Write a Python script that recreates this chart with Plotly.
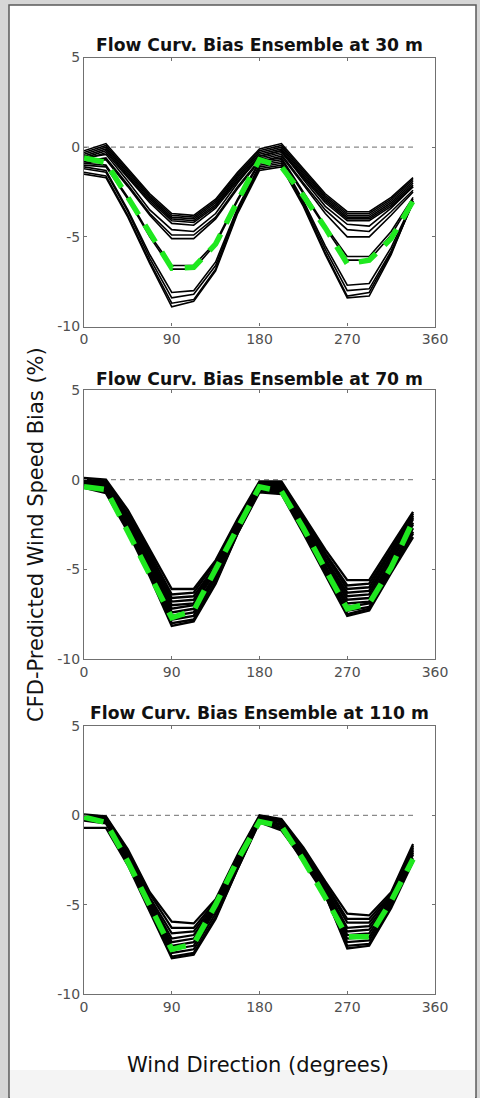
import plotly.graph_objects as go

W, H = 480, 1098

# ---------------- data ----------------
DIRS = [0, 22.5, 45, 67.5, 90, 112.5, 135, 157.5, 180, 202.5, 225, 247.5, 270, 292.5, 315, 337.5]
X_TICKS = [0, 90, 180, 270, 360]
X_TICKTEXT = ["0", "90", "180", "270", "360"]
Y_TICKS = [5, 0, -5, -10]
Y_TICKTEXT = ["5", "0", "-5", "-10"]
TITLES = ["Flow Curv. Bias Ensemble at 30 m",
          "Flow Curv. Bias Ensemble at 70 m",
          "Flow Curv. Bias Ensemble at 110 m"]

# 30 m ensemble members
E30_A1 = [-0.2, 0.2, -1.2, -2.6, -3.7, -3.8, -2.9, -1.4, -0.1, 0.2, -1.2, -2.6, -3.6, -3.6, -2.8, -1.7]
E30_A2 = [-0.3, 0.1, -1.3, -2.7, -3.8, -3.9, -3.0, -1.5, -0.2, 0.1, -1.3, -2.7, -3.7, -3.7, -2.9, -1.8]
E30_A3 = [-0.4, 0.0, -1.4, -2.8, -3.9, -4.0, -3.1, -1.6, -0.3, 0.0, -1.4, -2.8, -3.8, -3.8, -3.0, -1.9]
E30_A4 = [-0.5, -0.1, -1.5, -2.9, -4.0, -4.1, -3.2, -1.7, -0.4, -0.1, -1.5, -2.9, -3.9, -3.9, -3.1, -2.0]
E30_A5 = [-0.6, -0.2, -1.6, -3.0, -4.1, -4.2, -3.3, -1.8, -0.5, -0.2, -1.6, -3.0, -4.0, -4.0, -3.2, -2.1]
E30_A6 = [-0.7, -0.3, -1.7, -3.1, -4.25, -4.35, -3.4, -1.9, -0.6, -0.3, -1.7, -3.1, -4.1, -4.1, -3.3, -2.2]
E30_B1 = [-0.6, -0.4, -1.9, -3.5, -4.6, -4.7, -3.7, -2.0, -0.5, -0.2, -1.8, -3.3, -4.3, -4.4, -3.4, -2.2]
E30_B2 = [-0.8, -0.6, -2.1, -3.7, -4.9, -4.9, -3.9, -2.2, -0.7, -0.4, -2.0, -3.5, -4.6, -4.7, -3.6, -2.4]
E30_B3 = [-0.9, -0.7, -2.2, -3.8, -5.1, -5.1, -4.0, -2.3, -0.8, -0.5, -2.1, -3.7, -5.0, -5.0, -3.8, -2.5]
E30_C1 = [-0.9, -1.0, -2.8, -4.9, -6.6, -6.6, -5.3, -2.9, -0.8, -0.6, -2.5, -4.4, -6.1, -6.1, -4.7, -2.8]
E30_C2 = [-1.0, -1.1, -2.9, -5.0, -6.8, -6.8, -5.4, -3.0, -0.9, -0.7, -2.6, -4.5, -6.3, -6.3, -4.9, -2.9]
E30_D1 = [-1.1, -1.3, -3.5, -6.0, -8.1, -8.0, -6.4, -3.4, -1.0, -0.8, -3.0, -5.5, -7.7, -7.6, -5.6, -3.0]
E30_D2 = [-1.2, -1.4, -3.6, -6.2, -8.4, -8.2, -6.6, -3.5, -1.1, -0.9, -3.1, -5.7, -8.0, -7.9, -5.8, -3.1]
E30_D3 = [-1.4, -1.6, -3.8, -6.4, -8.7, -8.5, -6.8, -3.6, -1.2, -1.0, -3.2, -5.9, -8.3, -8.1, -5.9, -3.1]
E30_D4 = [-1.5, -1.7, -3.9, -6.5, -8.9, -8.6, -6.9, -3.7, -1.3, -1.1, -3.3, -6.0, -8.4, -8.3, -6.0, -3.0]
MEAN30 = [-0.6, -0.85, -2.8, -4.8, -6.75, -6.7, -5.4, -3.0, -0.7, -1.1, -2.7, -4.5, -6.5, -6.3, -5.1, -3.0]

# 70 m ensemble members
E70_1 = [0.1, 0.0, -1.7, -3.9, -6.1, -6.1, -4.5, -2.2, -0.1, -0.1, -2.0, -3.9, -5.6, -5.6, -3.7, -1.8]
E70_2 = [0.0, -0.1, -1.9, -4.1, -6.4, -6.3, -4.6, -2.3, -0.2, -0.2, -2.1, -4.1, -5.9, -5.8, -3.9, -1.9]
E70_3 = [0.0, -0.2, -2.0, -4.3, -6.6, -6.5, -4.8, -2.4, -0.2, -0.3, -2.2, -4.2, -6.1, -6.0, -4.0, -2.0]
E70_4 = [-0.1, -0.2, -2.1, -4.4, -6.8, -6.7, -4.9, -2.5, -0.3, -0.3, -2.3, -4.4, -6.3, -6.2, -4.2, -2.1]
E70_5 = [-0.1, -0.3, -2.2, -4.5, -7.0, -6.9, -5.0, -2.6, -0.3, -0.4, -2.4, -4.5, -6.5, -6.4, -4.3, -2.2]
E70_6 = [-0.2, -0.3, -2.3, -4.7, -7.2, -7.0, -5.1, -2.6, -0.4, -0.4, -2.5, -4.6, -6.7, -6.6, -4.5, -2.4]
E70_7 = [-0.2, -0.4, -2.4, -4.8, -7.4, -7.2, -5.3, -2.7, -0.4, -0.5, -2.6, -4.8, -6.9, -6.8, -4.6, -2.5]
E70_8 = [-0.3, -0.5, -2.5, -5.0, -7.6, -7.4, -5.4, -2.8, -0.5, -0.6, -2.7, -4.9, -7.1, -6.9, -4.8, -2.7]
E70_9 = [-0.3, -0.6, -2.6, -5.1, -7.8, -7.6, -5.5, -2.9, -0.6, -0.6, -2.8, -5.1, -7.3, -7.1, -4.9, -2.9]
E70_10 = [-0.4, -0.7, -2.8, -5.3, -8.0, -7.8, -5.7, -3.0, -0.6, -0.7, -2.9, -5.2, -7.5, -7.2, -5.1, -3.0]
E70_11 = [-0.45, -0.75, -2.9, -5.4, -8.15, -7.9, -5.8, -3.0, -0.7, -0.8, -3.0, -5.3, -7.6, -7.3, -5.2, -3.2]
MEAN70 = [-0.4, -0.55, -2.9, -5.3, -7.7, -7.3, -5.0, -2.6, -0.4, -0.65, -2.7, -5.0, -7.2, -6.9, -4.9, -2.3]

# 110 m ensemble members
E110_1 = [0.05, -0.05, -1.9, -4.3, -5.95, -6.05, -4.7, -2.2, 0.0, -0.2, -1.8, -3.7, -5.5, -5.6, -4.3, -1.6]
E110_2 = [0.0, -0.1, -2.0, -4.4, -6.3, -6.3, -4.8, -2.3, -0.05, -0.25, -1.9, -3.8, -5.8, -5.8, -4.4, -1.7]
E110_3 = [-0.05, -0.15, -2.1, -4.6, -6.6, -6.5, -4.9, -2.4, -0.1, -0.3, -2.0, -3.9, -6.0, -6.0, -4.5, -1.8]
E110_4 = [-0.1, -0.2, -2.2, -4.7, -6.9, -6.7, -5.0, -2.5, -0.1, -0.35, -2.1, -4.0, -6.3, -6.2, -4.6, -1.9]
E110_5 = [-0.1, -0.25, -2.3, -4.8, -7.1, -6.9, -5.1, -2.6, -0.15, -0.4, -2.2, -4.1, -6.5, -6.4, -4.7, -2.0]
E110_6 = [-0.15, -0.3, -2.4, -4.9, -7.3, -7.1, -5.2, -2.7, -0.2, -0.5, -2.3, -4.2, -6.7, -6.6, -4.8, -2.1]
E110_7 = [-0.2, -0.35, -2.5, -5.0, -7.5, -7.3, -5.3, -2.8, -0.25, -0.55, -2.4, -4.3, -6.9, -6.8, -4.9, -2.2]
E110_8 = [-0.25, -0.4, -2.6, -5.1, -7.7, -7.5, -5.5, -2.9, -0.3, -0.65, -2.5, -4.4, -7.1, -7.0, -5.0, -2.4]
E110_9 = [-0.3, -0.45, -2.7, -5.3, -7.9, -7.7, -5.7, -3.0, -0.35, -0.75, -2.6, -4.5, -7.3, -7.2, -5.1, -2.5]
E110_10 = [-0.7, -0.7, -2.8, -5.4, -8.0, -7.8, -5.8, -3.0, -0.4, -0.85, -2.5, -4.45, -7.45, -7.3, -5.2, -2.6]
MEAN110 = [-0.1, -0.4, -2.6, -5.0, -7.5, -7.2, -5.0, -2.5, -0.35, -0.6, -2.5, -4.6, -6.8, -6.8, -4.8, -2.45]

PANELS = [
    ([E30_A1, E30_A2, E30_A3, E30_A4, E30_A5, E30_A6, E30_B1, E30_B2, E30_B3,
      E30_C1, E30_C2, E30_D1, E30_D2, E30_D3, E30_D4], MEAN30, 1.6),
    ([E70_1, E70_2, E70_3, E70_4, E70_5, E70_6, E70_7, E70_8, E70_9, E70_10, E70_11], MEAN70, 2.4),
    ([E110_1, E110_2, E110_3, E110_4, E110_5, E110_6, E110_7, E110_8, E110_9, E110_10], MEAN110, 2.2),
]

# ---------------- layout geometry (pixels) ----------------
PX_X = (84, 435)
PX_Y = [(57.5, 326.5), (390, 659), (726, 994)]
TITLE_Y = [45, 379, 713]


def fx(px):
    return px / W


def fy(py):
    return 1 - py / H


fig = go.Figure()

for i, (members, mean, lw) in enumerate(PANELS):
    sfx = "" if i == 0 else str(i + 1)
    xa, ya = "x" + sfx, "y" + sfx
    fig.add_trace(go.Scatter(x=[DIRS[0], DIRS[-1]], y=[0, 0], mode="lines",
                             line=dict(color="#8a8a8a", width=1.3, dash="5px,4px"),
                             xaxis=xa, yaxis=ya, showlegend=False, hoverinfo="skip"))
    for m in members:
        fig.add_trace(go.Scatter(x=DIRS, y=m, mode="lines",
                                 line=dict(color="black", width=lw),
                                 xaxis=xa, yaxis=ya, showlegend=False, hoverinfo="skip"))
    fig.add_trace(go.Scatter(x=DIRS, y=mean, mode="lines",
                             line=dict(color="#1fe81f", width=5.5, dash="20px,12px"),
                             xaxis=xa, yaxis=ya, showlegend=False, hoverinfo="skip"))

axis_common = dict(showline=True, linecolor="#707070", linewidth=1.2, mirror="ticks",
                   ticks="inside", ticklen=3, tickcolor="#707070", showgrid=False,
                   zeroline=False, automargin=False,
                   tickfont=dict(family="DejaVu Sans", size=14, color="#505050"))

layout = dict(width=W, height=H, margin=dict(l=0, r=0, t=0, b=0, pad=0), autosize=False,
              paper_bgcolor="#d6d6d6", plot_bgcolor="white", showlegend=False)

for i in range(3):
    sfx = "" if i == 0 else str(i + 1)
    y0, y1 = PX_Y[i]
    layout["xaxis" + sfx] = dict(axis_common, domain=[fx(PX_X[0]), fx(PX_X[1])],
                                 range=[0, 360], tickvals=X_TICKS, ticktext=X_TICKTEXT,
                                 anchor="y" + sfx)
    layout["yaxis" + sfx] = dict(axis_common, domain=[fy(y1), fy(y0)],
                                 range=[-10, 5], tickvals=Y_TICKS, ticktext=Y_TICKTEXT,
                                 anchor="x" + sfx)

fig.update_layout(**layout)

shapes = [
    dict(type="rect", xref="paper", yref="paper", x0=fx(9), x1=fx(476), y0=0, y1=fy(5),
         fillcolor="white", line=dict(color="#5a5a5a", width=1.5), layer="below"),
    dict(type="rect", xref="paper", yref="paper", x0=fx(10), x1=fx(475), y0=0, y1=fy(1070),
         fillcolor="#f4f4f4", line=dict(width=0), layer="below"),
]
fig.update_layout(shapes=shapes)

annotations = []
for i in range(3):
    annotations.append(dict(text="<b>" + TITLES[i] + "</b>", xref="paper", yref="paper",
                            x=fx(259.5), y=fy(TITLE_Y[i]), xanchor="center", yanchor="middle",
                            showarrow=False,
                            font=dict(family="DejaVu Sans", size=17.2, color="#111")))
annotations.append(dict(text="Wind Direction (degrees)", xref="paper", yref="paper",
                        x=fx(258), y=fy(1065), xanchor="center", yanchor="middle",
                        showarrow=False, font=dict(family="DejaVu Sans", size=21, color="#111")))
annotations.append(dict(text="CFD-Predicted Wind Speed Bias (%)", xref="paper", yref="paper",
                        x=fx(36), y=fy(535), xanchor="center", yanchor="middle", textangle=-90,
                        showarrow=False, font=dict(family="DejaVu Sans", size=21, color="#111")))
fig.update_layout(annotations=annotations)

fig.write_html("out.html", config={"displayModeBar": False},
               post_script="document.body.style.margin='0';document.body.style.overflow='hidden';")
